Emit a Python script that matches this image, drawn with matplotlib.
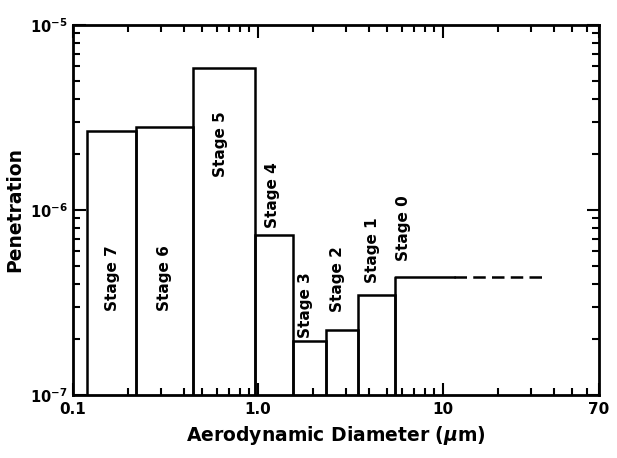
import math
import matplotlib
matplotlib.use("Agg")
import matplotlib.pyplot as plt
from matplotlib.ticker import LogLocator, NullFormatter, FixedLocator, FixedFormatter

# Data
stages = ["Stage 7", "Stage 6", "Stage 5", "Stage 4", "Stage 3", "Stage 2", "Stage 1", "Stage 0"]
left_edges = [0.12, 0.22, 0.445, 0.97, 1.55, 2.35, 3.5, 5.5]
right_edges = [0.22, 0.445, 0.97, 1.55, 2.35, 3.5, 5.5, 11.5]
penetration = [2.67e-6, 2.81e-6, 5.86e-6, 7.33e-7, 1.96e-7, 2.25e-7, 3.47e-7, 4.34e-7]
stage0_dashed_end = 35.0
x_ticks = [0.1, 1.0, 10, 70]
x_ticklabels = ["0.1", "1.0", "10", "70"]
y_ticks = [1e-7, 1e-6, 1e-5]
y_ticklabels = [r"10$^{-7}$", r"10$^{-6}$", r"10$^{-5}$"]
# stage label centres (data units)
label_x = [0.163, 0.314, 0.631, 1.2, 1.82, 2.71, 4.19, 6.15]
label_y = [4.3e-7, 4.3e-7, 2.27e-6, 1.2e-6, 3.06e-7, 4.24e-7, 6.1e-7, 8.0e-7]

plt.rcParams['font.family'] = ['DejaVu Sans']
plt.rcParams['font.weight'] = 'bold'
plt.rcParams['mathtext.default'] = 'bf'

fig = plt.figure(figsize=(6.17, 4.58), dpi=100)
ax = fig.add_axes([0.118, 0.1376, 0.853, 0.8078])
ax.set_xscale('log')
ax.set_yscale('log')
ax.set_xlim(0.1, 70)
ax.set_ylim(1e-7, 1e-5)

lw = 1.8
ybot = 1e-7
for i in range(7):
    l, r, v = left_edges[i], right_edges[i], penetration[i]
    ax.plot([l, l, r, r], [ybot, v, v, ybot], color='black', lw=lw, solid_joinstyle='miter')
# Stage 0: left edge, solid top, then dashed extension
l, r, v = left_edges[7], right_edges[7], penetration[7]
ax.plot([l, l, r], [ybot, v, v], color='black', lw=lw)
ax.plot([r, stage0_dashed_end], [v, v], color='black', lw=lw, dashes=(5, 2.5))

for i, s in enumerate(stages):
    ax.text(label_x[i], label_y[i], s, rotation=90, ha='center', va='center',
            fontsize=11, fontweight='bold')

ax.xaxis.set_major_locator(FixedLocator(x_ticks))
ax.xaxis.set_major_formatter(FixedFormatter(x_ticklabels))
ax.xaxis.set_minor_locator(LogLocator(base=10, subs=range(2, 10)))
ax.xaxis.set_minor_formatter(NullFormatter())
ax.yaxis.set_major_locator(FixedLocator(y_ticks))
ax.yaxis.set_major_formatter(FixedFormatter(y_ticklabels))
ax.yaxis.set_minor_locator(LogLocator(base=10, subs=range(2, 10)))
ax.yaxis.set_minor_formatter(NullFormatter())

ax.tick_params(which='both', direction='in', top=True, right=True, width=1.5)
ax.tick_params(which='major', length=9, labelsize=11, pad=5)
ax.tick_params(axis='y', which='major', labelsize=10.5, pad=4)
ax.tick_params(which='minor', length=5)
for sp in ax.spines.values():
    sp.set_linewidth(2)

ax.set_xlabel(r"Aerodynamic Diameter ($\mathit{\mu}$m)", fontsize=13.5, fontweight='bold', labelpad=5)
ax.set_ylabel("Penetration", fontsize=13.5, fontweight='bold')
ax.yaxis.set_label_coords(-0.093, 0.5)

fig.savefig("out.png", dpi=100)
